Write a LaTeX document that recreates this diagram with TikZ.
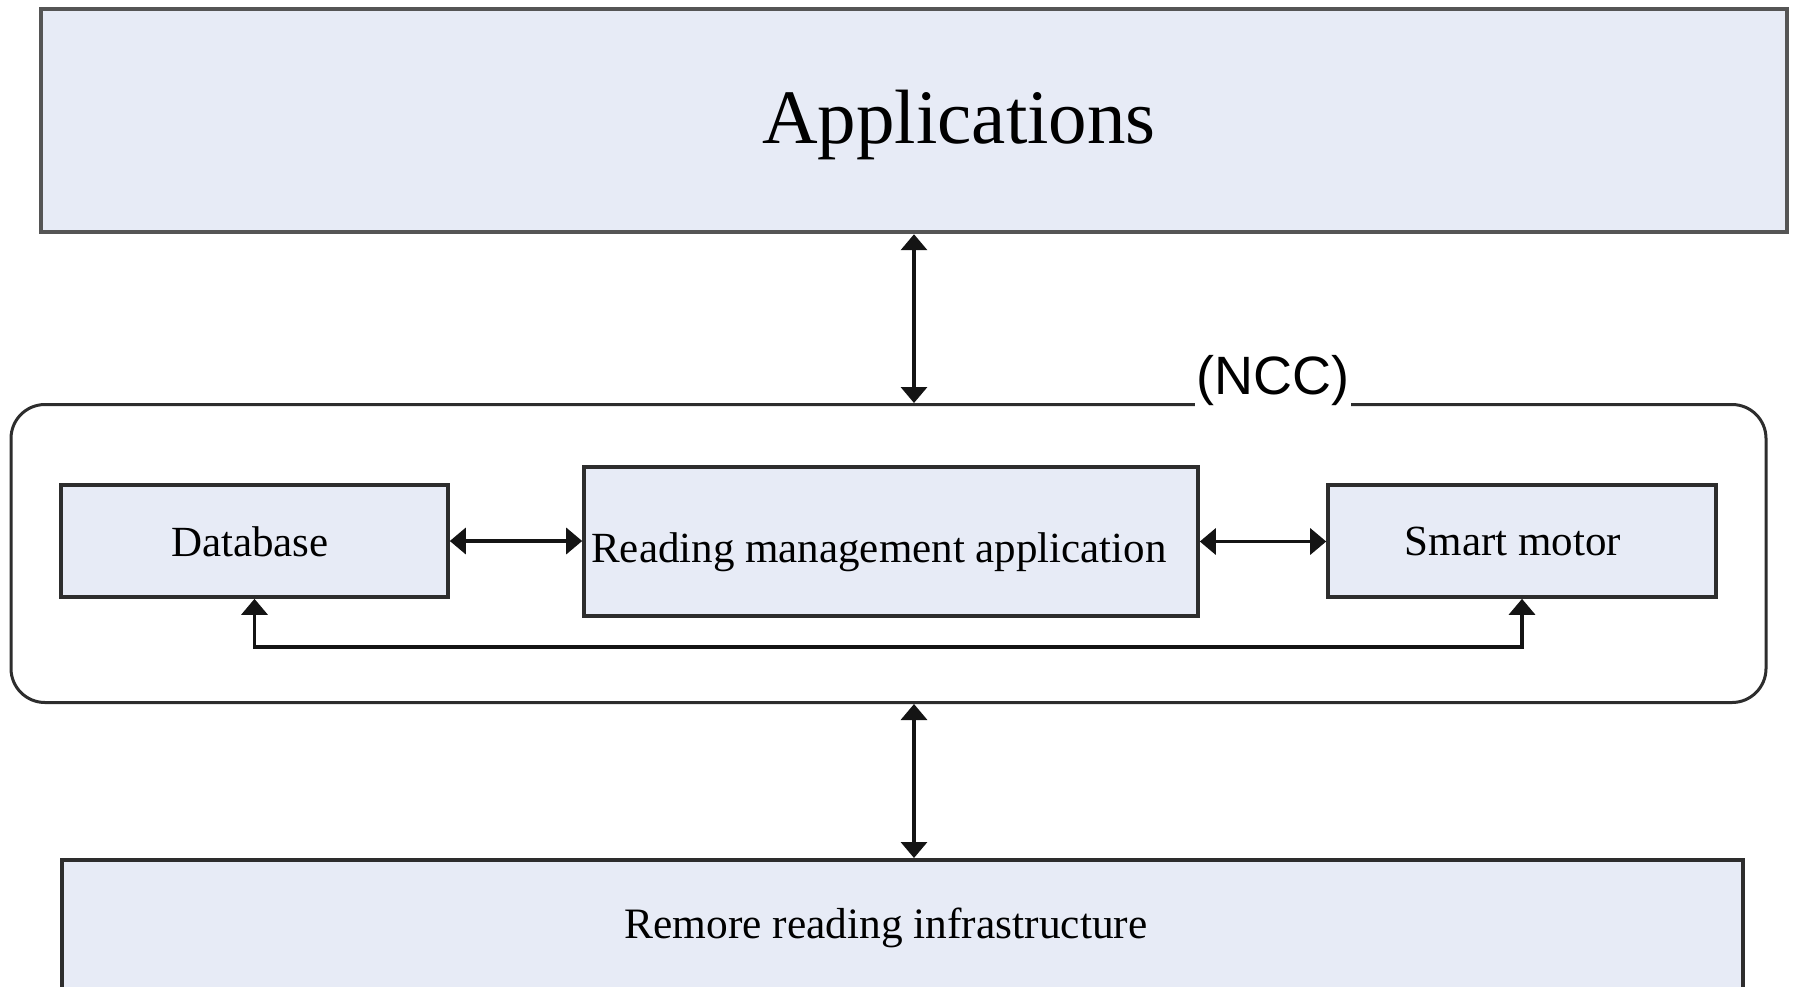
\documentclass[tikz,border=0pt]{standalone}
\usepackage{fontspec}
\setmainfont{Liberation Serif}
\newfontfamily\labelsans{Liberation Sans}
\usetikzlibrary{arrows.meta}

\definecolor{boxfill}{RGB}{231,235,246}
\definecolor{boxline}{RGB}{45,45,45}
\definecolor{topline}{RGB}{85,85,85}
\definecolor{arrowcol}{RGB}{20,20,20}

\tikzset{
  layerbox/.style={draw=boxline, fill=boxfill, line width=1.8pt, inner sep=0pt},
  topbox/.style={draw=topline, fill=boxfill, line width=2.2pt, inner sep=0pt},
  nccframe/.style={draw=boxline, line width=1.5pt, rounded corners=17pt, inner sep=0pt},
  bodytext/.style={font=\fontsize{21.5}{24}\selectfont, inner sep=0pt},
  link/.style={draw=arrowcol, line width=1.7pt, {Triangle[length=8pt,width=13pt]}-{Triangle[length=8pt,width=13pt]}}
}

\begin{document}
\begin{tikzpicture}[x=0.5pt, y=-0.5pt]
  \useasboundingbox (0,0) rectangle (1793,986);
  \clip (0,0) rectangle (1793,986);

  % top layer
  \node[topbox, minimum width=873pt, minimum height=111.5pt] (app) at (914,120.5) {};
  \node[font=\fontsize{38.5}{42}\selectfont, inner sep=0pt, anchor=base] (apptext) at (959,143) {Applications};

  % network control centre frame
  \node[nccframe, minimum width=877.5pt, minimum height=149pt] (ncc) at (888.5,553.5) {};
  \node[font=\labelsans\fontsize{27}{30}\selectfont, fill=white,
        inner xsep=1pt, inner ysep=2.5pt, anchor=base] (ncclabel) at (1273,394) {(NCC)};

  % components inside the centre
  \node[layerbox, minimum width=193.5pt, minimum height=56pt] (db) at (254.5,541) {};
  \node[bodytext, anchor=base] (dbtext) at (250,556) {Database};
  \node[layerbox, minimum width=307pt, minimum height=74.5pt] (rma) at (891,541.5) {};
  \node[bodytext, anchor=base] (rmatext) at (879,562) {Reading management application};
  \node[layerbox, minimum width=194pt, minimum height=56pt] (sm) at (1522,541) {};
  \node[bodytext, anchor=base] (smtext) at (1513,555) {Smart motor};

  % bottom layer, running past the lower edge
  \node[layerbox, minimum width=840.5pt, minimum height=75pt, anchor=north] (rem) at (902.5,858) {};
  \node[font=\fontsize{21.7}{25}\selectfont, inner sep=0pt, anchor=base] (remtext) at (886,938) {Remore reading infrastructure};

  % connectors
  \coordinate (loopbase) at (900,647);
  \draw[link] (app.south) -- (app.south |- ncc.north);
  \draw[link] (ncc.south -| app.south) -- (app.south |- rem.north);
  \draw[link] (db.east) -- (db.east -| rma.west);
  \draw[link] (rma.east) -- (rma.east -| sm.west);
  \draw[link] (db.south) |- (loopbase) -| (sm.south);
\end{tikzpicture}
\end{document}
